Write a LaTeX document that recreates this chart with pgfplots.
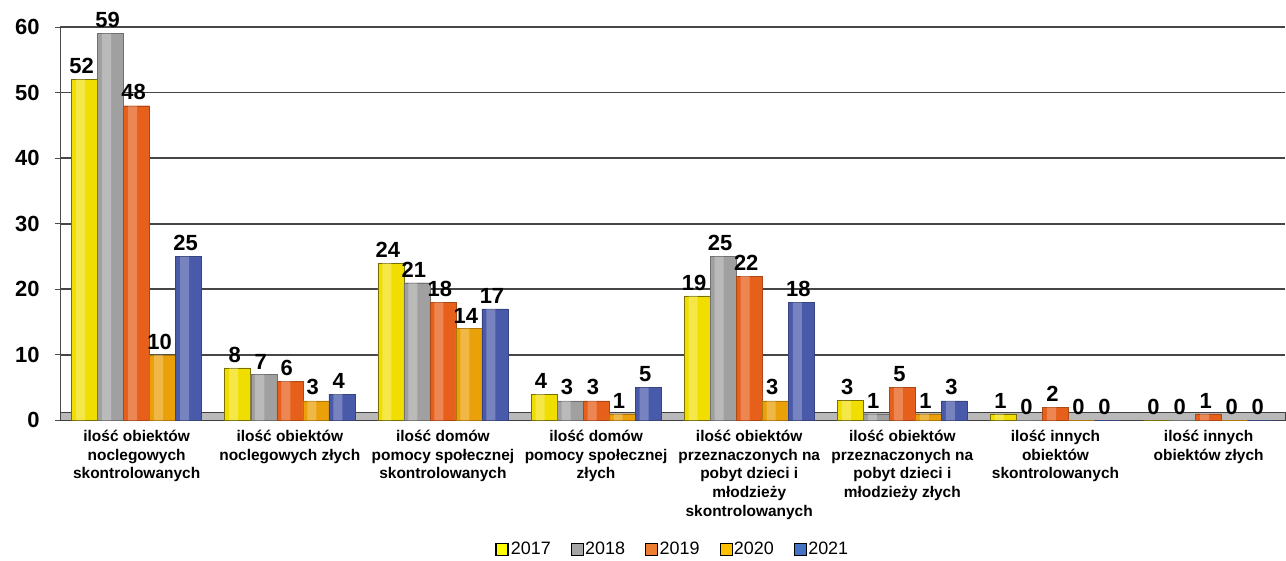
\documentclass[border=0pt]{standalone}
\usepackage{pgfplots}
\pgfplotsset{compat=1.18}
\usepackage{fontspec}
\setmainfont{Liberation Sans}
\definecolor{c17}{RGB}{240,222,0}
\definecolor{c18}{RGB}{160,160,160}
\definecolor{c19}{RGB}{230,96,28}
\definecolor{c20}{RGB}{234,160,8}
\definecolor{c21}{RGB}{74,90,170}
\definecolor{l17}{RGB}{255,255,0}
\definecolor{l18}{RGB}{165,165,165}
\definecolor{l19}{RGB}{237,125,49}
\definecolor{l20}{RGB}{255,192,0}
\definecolor{l21}{RGB}{68,114,196}
\pgfplotstableread{
x y17 y18 y19 y20 y21
0 52 59 48 10 25
1 8 7 6 3 4
2 24 21 18 14 17
3 4 3 3 1 5
4 19 25 22 3 18
5 3 1 5 1 3
6 1 0 2 0 0
7 0 0 1 0 0
}\datatable
\begin{document}
\begin{tikzpicture}
\begin{axis}[
  scale only axis,
  width=1224bp, height=393bp,
  xmin=-0.5, xmax=7.5, ymin=0, ymax=60,
  ybar=0pt, bar width=26bp,
  axis x line*=bottom, axis y line*=left,
  axis line style={gray!60!black, line width=1pt},
  ytick={0,10,...,60},
  ymajorgrids, grid style={gray!55!black, line width=1.6pt},
  y tick style={gray!60!black, line width=1pt},
  tick align=outside, major tick length=5bp,
  xtick={0,...,7},
  x tick style={draw=none},
  minor xtick={0.5,1.5,...,6.5},
  minor x tick style={gray!60!black, line width=0.8pt},
  minor tick length=5bp,
  /pgf/number format/assume math mode=true,
  yticklabel style={font=\fontsize{22}{25}\selectfont\bfseries, xshift=-12bp},
  xticklabels={{ilość obiektów\\noclegowych\\skontrolowanych},
    {ilość obiektów\\noclegowych złych},
    {ilość domów\\pomocy społecznej\\skontrolowanych},
    {ilość domów\\pomocy społecznej\\złych},
    {ilość obiektów\\przeznaczonych na\\pobyt dzieci i\\młodzieży\\skontrolowanych},
    {ilość obiektów\\przeznaczonych na\\pobyt dzieci i\\młodzieży złych},
    {ilość innych\\obiektów\\skontrolowanych},
    {ilość innych\\obiektów złych}},
  xticklabel style={font=\fontsize{15.5}{18.8}\selectfont\bfseries, align=center, anchor=north, yshift=-1bp},
  every node near coord/.append style={font=\fontsize{22}{25}\selectfont\bfseries, text=black, yshift=2bp, xshift=-3bp},
  legend style={at={(0.5,-0.328)}, anchor=center, draw=none, fill=none,
    font=\fontsize{18}{21}\selectfont, legend columns=5,
    /tikz/every even column/.append style={column sep=18bp}},
  legend image code/.code={\draw[#1] (0bp,-6bp) rectangle (12bp,6bp);},
  clip=false,
]
\path (rel axis cs:0,1) -- ++(0,27bp);
\fill[gray!55, draw=gray!50!black, line width=0.6pt] (axis cs:-0.5,0) rectangle (axis cs:7.5,1.2);
\addlegendimage{fill=l17, draw=black, line width=1.8pt}
\addlegendentry{2017}
\addlegendimage{fill=l18, draw=none}
\addlegendentry{2018}
\addlegendimage{fill=l19, draw=none}
\addlegendentry{2019}
\addlegendimage{fill=l20, draw=none}
\addlegendentry{2020}
\addlegendimage{fill=l21, draw=none}
\addlegendentry{2021}
% main bars
\addplot[forget plot, bar shift=-52bp, fill=c17, draw=c17!50!black, line width=0.6pt, nodes near coords] table[x=x,y=y17] {\datatable};
\addplot[forget plot, bar shift=-26bp, fill=c18, draw=c18!70!black, line width=0.4pt, nodes near coords] table[x=x,y=y18] {\datatable};
\addplot[forget plot, bar shift=0bp, fill=c19, draw=c19!75!black, line width=0.4pt, nodes near coords] table[x=x,y=y19] {\datatable};
\addplot[forget plot, bar shift=26bp, fill=c20, draw=c20!75!black, line width=0.4pt, nodes near coords] table[x=x,y=y20] {\datatable};
\addplot[forget plot, bar shift=52bp, fill=c21, draw=c21!75!black, line width=0.4pt, nodes near coords] table[x=x,y=y21] {\datatable};
% cylinder highlights
\addplot[forget plot, bar width=9bp, bar shift=-56bp, fill=white, fill opacity=0.28, draw=none] table[x=x,y=y17] {\datatable};
\addplot[forget plot, bar width=9bp, bar shift=-30bp, fill=white, fill opacity=0.28, draw=none] table[x=x,y=y18] {\datatable};
\addplot[forget plot, bar width=9bp, bar shift=-4bp, fill=white, fill opacity=0.25, draw=none] table[x=x,y=y19] {\datatable};
\addplot[forget plot, bar width=9bp, bar shift=22bp, fill=white, fill opacity=0.25, draw=none] table[x=x,y=y20] {\datatable};
\addplot[forget plot, bar width=9bp, bar shift=48bp, fill=white, fill opacity=0.25, draw=none] table[x=x,y=y21] {\datatable};
\end{axis}
\path (current axis.south west) -- ++(-60bp,0);
\end{tikzpicture}
\end{document}
